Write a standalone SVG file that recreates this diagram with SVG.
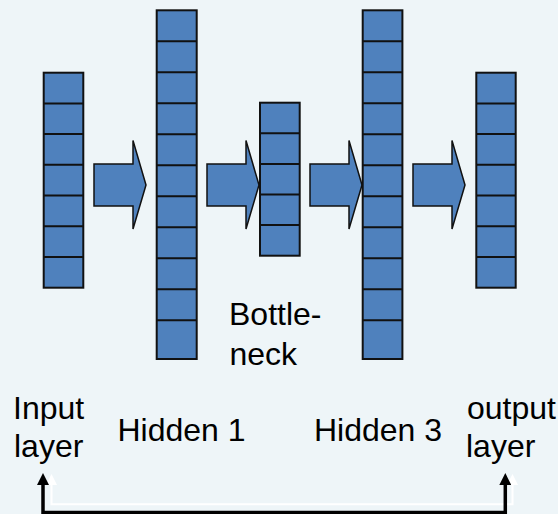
<svg xmlns="http://www.w3.org/2000/svg" width="558" height="514" viewBox="0 0 558 514">
  <defs>
    <style>
      .bg { fill: #EEF5F8; }
      .col { fill: #4F81BD; stroke: #111; stroke-width: 2; }
      .cell { stroke: #111; stroke-width: 2; }
      .arrow { fill: #4F81BD; stroke: #111; stroke-width: 1.5; stroke-linejoin: miter; }
      .lbl { font-family: "Liberation Sans", Arial, sans-serif; font-size: 32px; fill: #000; }
      .conn { fill: none; stroke: #000; stroke-width: 3.5; }
      .connhi { fill: none; stroke: #FFFFFF; stroke-width: 2; }
    </style>
    <marker id="head" viewBox="0 0 12 12" refX="0" refY="6" markerWidth="12" markerHeight="12" markerUnits="userSpaceOnUse" orient="auto-start-reverse">
      <path d="M0,0 L12,6 L0,12 Z" fill="#000"/>
    </marker>
    <marker id="headhi" viewBox="0 0 12 12" refX="0" refY="6" markerWidth="11" markerHeight="11" markerUnits="userSpaceOnUse" orient="auto-start-reverse">
      <path d="M0,0 L12,6 L0,12 Z" fill="#FFFFFF"/>
    </marker>
  </defs>
  <rect class="bg" x="0" y="0" width="558" height="514"/>

  <g id="arrows">
    <polygon id="arrow1" class="arrow" points="94,164 133,164 133,140.5 146,185 133,229 133,206 94,206"/>
    <polygon id="arrow2" class="arrow" points="207,164 246,164 246,140.5 259,185 246,229 246,206 207,206"/>
    <polygon id="arrow3" class="arrow" points="310,164 349,164 349,140.5 362,185 349,229 349,206 310,206"/>
    <polygon id="arrow4" class="arrow" points="413,164 452,164 452,140.5 465,185 452,229 452,206 413,206"/>
  </g>

  <g id="input-layer">
    <rect class="col" x="43.7" y="72.7" width="39.6" height="215"/>
    <path class="cell" d="M43.7,103.4 H83.3 M43.7,134.1 H83.3 M43.7,164.8 H83.3 M43.7,195.5 H83.3 M43.7,226.2 H83.3 M43.7,256.9 H83.3"/>
  </g>

  <g id="hidden1">
    <rect class="col" x="156.7" y="10.3" width="40" height="348.7"/>
    <path class="cell" d="M156.7,41.3 H196.7 M156.7,72.3 H196.7 M156.7,103.3 H196.7 M156.7,134.3 H196.7 M156.7,165.3 H196.7 M156.7,196.3 H196.7 M156.7,227.3 H196.7 M156.7,258.3 H196.7 M156.7,289.3 H196.7 M156.7,320.3 H196.7"/>
  </g>

  <g id="bottleneck">
    <rect class="col" x="260" y="102.7" width="39.7" height="153"/>
    <path class="cell" d="M260,133.3 H299.7 M260,163.9 H299.7 M260,194.5 H299.7 M260,225.1 H299.7"/>
  </g>

  <g id="hidden3">
    <rect class="col" x="362.7" y="10.3" width="39.7" height="348.7"/>
    <path class="cell" d="M362.7,41.3 H402.4 M362.7,72.3 H402.4 M362.7,103.3 H402.4 M362.7,134.3 H402.4 M362.7,165.3 H402.4 M362.7,196.3 H402.4 M362.7,227.3 H402.4 M362.7,258.3 H402.4 M362.7,289.3 H402.4 M362.7,320.3 H402.4"/>
  </g>

  <g id="output-layer">
    <rect class="col" x="476.3" y="72.7" width="39.4" height="215"/>
    <path class="cell" d="M476.3,103.4 H515.7 M476.3,134.1 H515.7 M476.3,164.8 H515.7 M476.3,195.5 H515.7 M476.3,226.2 H515.7 M476.3,256.9 H515.7"/>
  </g>

  <g id="labels">
    <text class="lbl" x="229" y="325">Bottle-</text>
    <text class="lbl" x="229.5" y="365">neck</text>
    <text class="lbl" x="13" y="419.3">Input</text>
    <text class="lbl" x="14" y="456.5">layer</text>
    <text class="lbl" x="117.5" y="441">Hidden 1</text>
    <text class="lbl" x="314" y="441">Hidden 3</text>
    <text class="lbl" x="467" y="419.3">output</text>
    <text class="lbl" x="466" y="456.5">layer</text>
  </g>

  <g id="connectors">
    <path class="connhi" d="M51.5,485 V504.3 H512.5 V485" marker-start="url(#headhi)" marker-end="url(#headhi)"/>
    <path class="conn" d="M43,485 V512.5 H505.3 V485" marker-start="url(#head)" marker-end="url(#head)"/>
  </g>
</svg>
